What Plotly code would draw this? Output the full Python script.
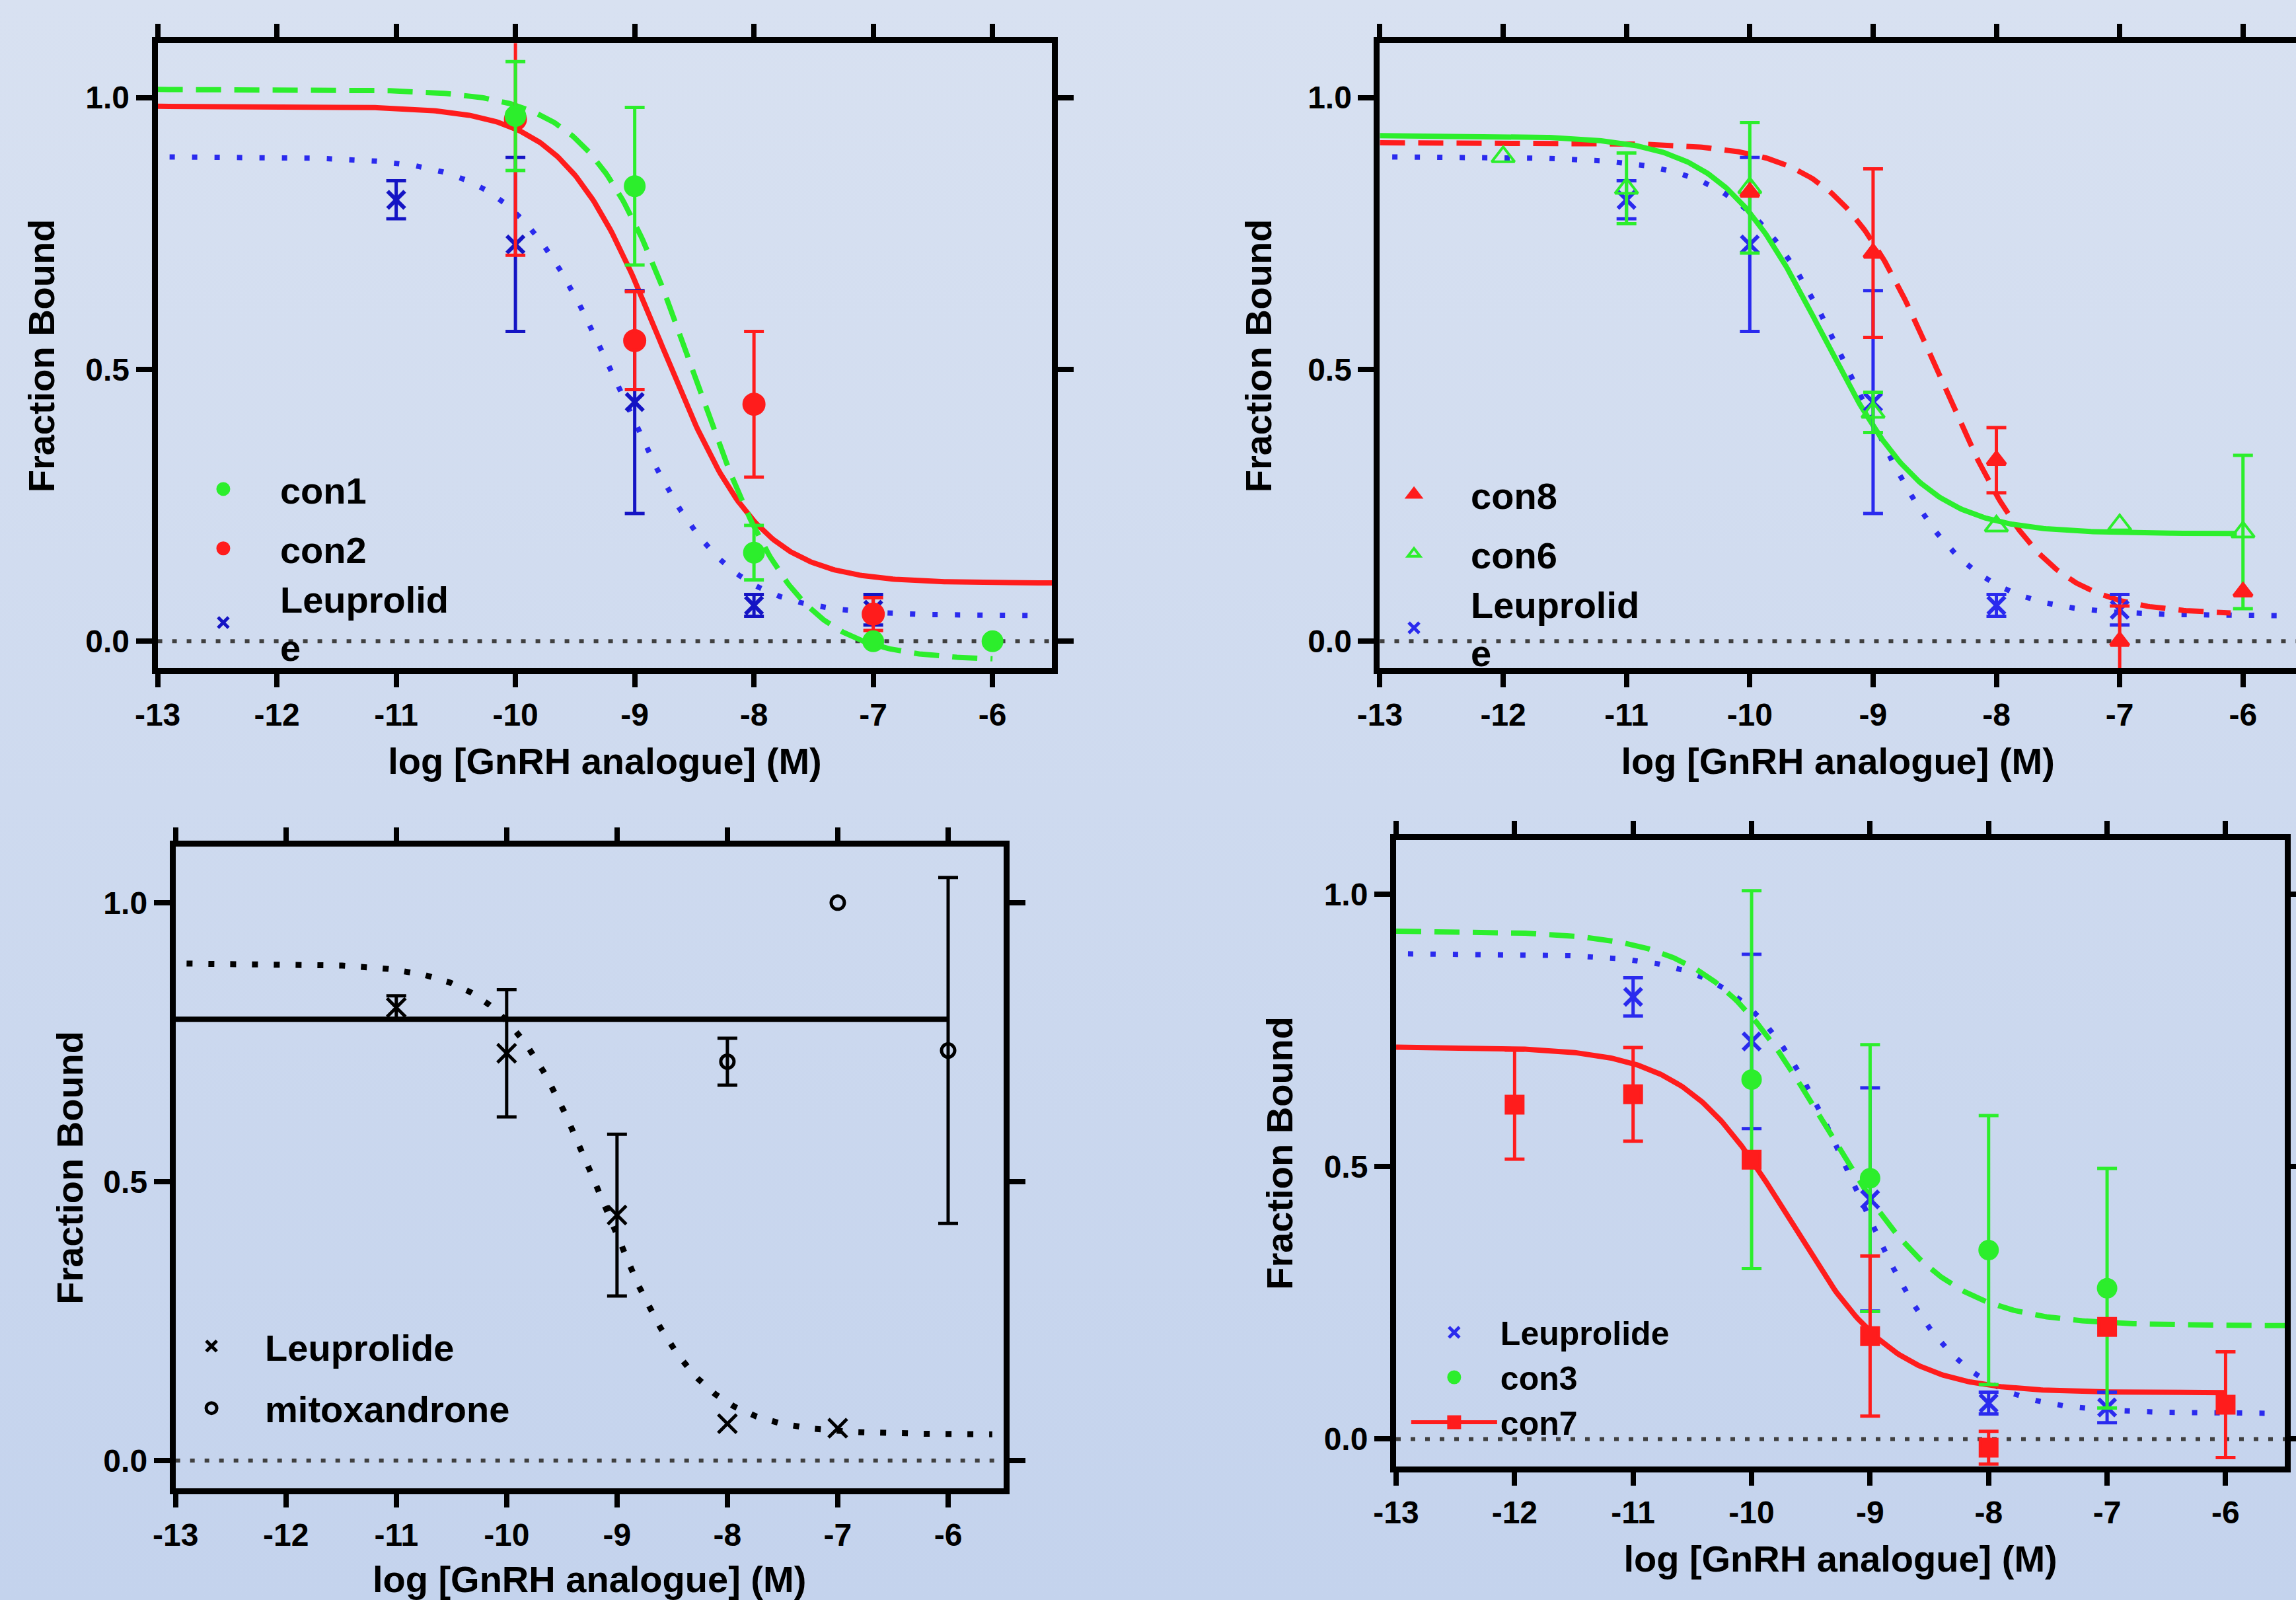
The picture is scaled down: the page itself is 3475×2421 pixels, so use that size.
import base64
import numpy as np
import plotly.graph_objects as go

W, H = 3475, 2421

# ---------------- data ----------------
x_ticks = [-13, -12, -11, -10, -9, -8, -7, -6]
x_ticktext = ["-13", "-12", "-11", "-10", "-9", "-8", "-7", "-6"]
y_ticks = [0.0, 0.5, 1.0]
y_ticktext = ["0.0", "0.5", "1.0"]

# Leuprolide (reference compound, shown in all panels)
leu_x = [-11, -10, -9, -8, -7]
leu_y = [0.812, 0.730, 0.440, 0.066, 0.058]
leu_err = [0.035, 0.160, 0.205, 0.020, 0.028]
leu_err_p3 = [0.021, 0.114, 0.145, 0.0, 0.0]
leu_fit = [0.891, 0.047, -9.14, 1.0]          # top, bottom, logIC50, hill
leu_fit_span = [-12.9, -5.6]

con1_x = [-10, -9, -8, -7, -6]
con1_y = [0.966, 0.837, 0.163, 0.0, 0.0]
con1_err = [0.10, 0.145, 0.05, 0.0, 0.0]
con1_fit = [1.015, -0.035, -8.5, 1.03]
con1_fit_span = [-13.0, -6.0]

con2_x = [-10, -9, -8, -7]
con2_y = [0.960, 0.553, 0.436, 0.050]
con2_err = [0.25, 0.09, 0.134, 0.03]
con2_fit = [0.984, 0.107, -8.775, 1.064]
con2_fit_span = [-13.0, -5.5]

con8_x = [-10, -9, -8, -7, -6]
con8_y = [0.826, 0.714, 0.333, 0.0, 0.091]
con8_err = [0.0, 0.155, 0.06, 0.065, 0.0]
con8_fit = [0.917, 0.049, -8.45, 1.04]
con8_fit_span = [-13.0, -6.1]

con6_x = [-12, -11, -10, -9, -8, -7, -6]
con6_y = [0.891, 0.833, 0.834, 0.421, 0.212, 0.214, 0.201]
con6_err = [0.0, 0.065, 0.12, 0.037, 0.0, 0.0, 0.141]
con6_fit = [0.93, 0.198, -9.41, 1.05]
con6_fit_span = [-13.0, -6.05]

con3_x = [-10, -9, -8, -7]
con3_y = [0.660, 0.479, 0.347, 0.277]
con3_err = [0.347, 0.245, 0.247, 0.22]
con3_fit = [0.933, 0.208, -9.367, 0.88]
con3_fit_span = [-13.0, -5.5]

con7_x = [-12, -11, -10, -9, -8, -7, -6]
con7_y = [0.614, 0.633, 0.513, 0.189, -0.016, 0.206, 0.063]
con7_err = [0.10, 0.086, 0.0, 0.147, 0.03, 0.0, 0.097]
con7_fit = [0.72, 0.085, -9.68, 0.98]
con7_fit_span = [-13.0, -6.0]

mito_x = [-8, -7, -6]
mito_y = [0.715, 1.0, 0.735]
mito_err = [0.042, 0.0, 0.31]
mito_fit_level = 0.791
mito_fit_span = [-13.0, -6.0]

# ---------------- styles ----------------
FONT = "Arial, 'Liberation Sans', sans-serif"
GREEN = "#2cee2c"
RED = "#ff1c1c"
BLUE_DK = "#1414c4"
BLUE = "#2a2aee"
BLACK = "#000000"

TICKFONT = dict(family=FONT, size=48, color="black", weight="bold")
TITLEFONT = dict(family=FONT, size=56, color="black", weight="bold")


def sigmoid(params, span, n=400):
    top, bottom, logic50, hill = params
    xs = np.linspace(span[0], span[1], n)
    ys = bottom + (top - bottom) / (1.0 + 10.0 ** ((xs - logic50) * hill))
    return xs, ys


traces = []


def add_series(x, y, err, name, color, symbol, size, xa, ya, legend, group,
               rank, showlegend=True, mlw=5):
    # error bars only where an error was shown
    ex = [a for a, e in zip(x, err) if e > 0]
    ey = [b for b, e in zip(y, err) if e > 0]
    ee = [e for e in err if e > 0]
    traces.append(go.Scatter(
        x=ex, y=ey, mode="markers", xaxis=xa, yaxis=ya, showlegend=False,
        hoverinfo="skip", marker=dict(color="rgba(0,0,0,0)", size=2),
        error_y=dict(type="data", array=ee, visible=True,
                     color=color, thickness=5, width=15)))
    mk = dict(symbol=symbol, size=size, color=color,
              line=dict(width=mlw, color=color))
    traces.append(go.Scatter(
        x=x, y=y, mode="markers", name=name, xaxis=xa, yaxis=ya,
        legend=legend, legendgroup=group, legendrank=rank,
        showlegend=showlegend, marker=mk))


def add_fit(params, span, color, dash, width, xa, ya):
    xs, ys = sigmoid(params, span)
    traces.append(go.Scatter(
        x=xs, y=ys, mode="lines", xaxis=xa, yaxis=ya, showlegend=False,
        hoverinfo="skip", line=dict(color=color, width=width, dash=dash)))


DOT = "8px,26px"
DASH = "38px,20px"

# ---- panel 1 ----
add_fit(leu_fit, leu_fit_span, BLUE, DOT, 8, "x", "y")
add_fit(con2_fit, con2_fit_span, RED, "solid", 8, "x", "y")
add_fit(con1_fit, con1_fit_span, GREEN, DASH, 8, "x", "y")
add_series(leu_x, leu_y, leu_err, "Leuprolid<br>e", BLUE_DK, "x-thin", 26,
           "x", "y", "legend", "b", 3, mlw=6)
add_series(con2_x, con2_y, con2_err, "con2", RED, "circle", 30, "x", "y",
           "legend", "b", 2)
add_series(con1_x, con1_y, con1_err, "con1", GREEN, "circle", 28, "x", "y",
           "legend", "a", 1)

# ---- panel 2 ----
add_fit(leu_fit, leu_fit_span, BLUE, DOT, 8, "x2", "y2")
add_fit(con8_fit, con8_fit_span, RED, DASH, 8, "x2", "y2")
add_fit(con6_fit, con6_fit_span, GREEN, "solid", 8, "x2", "y2")
add_series(leu_x, leu_y, leu_err, "Leuprolid<br>e", BLUE, "x-thin", 26,
           "x2", "y2", "legend2", "b", 3, mlw=6)
add_series(con6_x, con6_y, con6_err, "con6", GREEN, "triangle-up-open", 30,
           "x2", "y2", "legend2", "b", 2, mlw=4)
add_series(con8_x, con8_y, con8_err, "con8", RED, "triangle-up", 24,
           "x2", "y2", "legend2", "a", 1)

# ---- panel 3 ----
add_fit(leu_fit, leu_fit_span, BLACK, "9px,24px", 9, "x3", "y3")
xs_m = list(mito_fit_span)
traces.append(go.Scatter(x=xs_m, y=[mito_fit_level] * len(xs_m), mode="lines",
                         xaxis="x3", yaxis="y3", showlegend=False,
                         hoverinfo="skip", line=dict(color=BLACK, width=8)))
add_series(leu_x, leu_y, leu_err_p3, "Leuprolide", BLACK, "x-thin", 28,
           "x3", "y3", "legend3", "a", 1, mlw=5)
add_series(mito_x, mito_y, mito_err, "mitoxandrone", BLACK, "circle-open", 20,
           "x3", "y3", "legend3", "b", 2, mlw=5)

# ---- panel 4 ----
add_fit(leu_fit, leu_fit_span, BLUE, DOT, 8, "x4", "y4")
add_fit(con3_fit, con3_fit_span, GREEN, DASH, 8, "x4", "y4")
add_fit(con7_fit, con7_fit_span, RED, "solid", 8, "x4", "y4")
add_series(leu_x, leu_y, leu_err, "Leuprolide", BLUE, "x-thin", 26,
           "x4", "y4", "legend4", "a", 1, mlw=6)
add_series(con3_x, con3_y, con3_err, "con3", GREEN, "circle", 26,
           "x4", "y4", "legend4", "b", 2)
add_series(con7_x, con7_y, con7_err, "con7", RED, "square", 25,
           "x4", "y4", "legend4", "c", 3, showlegend=False)
# legend entry for con7 (line + square, as in the original key)
traces.append(go.Scatter(x=[None], y=[None], mode="lines+markers", name="con7",
                         xaxis="x4", yaxis="y4", legend="legend4",
                         legendgroup="c", legendrank=3,
                         line=dict(color=RED, width=6),
                         marker=dict(symbol="square", size=16, color=RED,
                                     line=dict(width=5, color=RED))))

fig = go.Figure(data=traces)


def xaxis(domain, rng, anchor):
    return dict(domain=domain, range=rng, anchor=anchor, showline=True,
                linecolor="black", linewidth=9, mirror="ticks",
                ticks="outside", ticklen=20, tickwidth=8, tickcolor="black",
                tickvals=x_ticks, ticktext=x_ticktext, tickfont=TICKFONT,
                showgrid=False, zeroline=False, automargin=False,
                title=dict(text="log [GnRH analogue] (M)", font=TITLEFONT,
                           standoff=28))


def yaxis(domain, anchor, standoff):
    return dict(domain=domain, range=[-0.05, 1.1], anchor=anchor,
                showline=True, linecolor="black", linewidth=9,
                mirror="ticks", ticks="outside", ticklen=24, tickwidth=8,
                tickcolor="black", tickvals=y_ticks, ticktext=y_ticktext,
                tickfont=TICKFONT, showgrid=False, zeroline=False,
                automargin=False,
                title=dict(text="Fraction Bound", font=TITLEFONT,
                           standoff=standoff))


def legend(x, y, size, itemwidth, gap):
    return dict(x=x, y=y, xanchor="left", yanchor="top",
                bgcolor="rgba(0,0,0,0)", borderwidth=0,
                font=dict(family=FONT, size=size, color="black",
                          weight="bold"),
                itemwidth=itemwidth, tracegroupgap=gap, traceorder="grouped")


grad_svg = (
    '<svg xmlns="http://www.w3.org/2000/svg" width="100" height="100" '
    'viewBox="0 0 100 100" preserveAspectRatio="none">'
    '<defs><linearGradient id="g" x1="0" y1="0" x2="0" y2="1">'
    '<stop offset="0" stop-color="#d8e1f1"/>'
    '<stop offset="1" stop-color="#c4d3ed"/></linearGradient></defs>'
    '<rect width="100" height="100" fill="url(#g)"/></svg>')
grad_src = "data:image/svg+xml;base64," + base64.b64encode(
    grad_svg.encode()).decode()

zero_shapes = []
for xa, ya in [("x", "y"), ("x2", "y2"), ("x3", "y3"), ("x4", "y4")]:
    zero_shapes.append(dict(type="line", xref=xa + " domain", yref=ya,
                            x0=0, x1=1, y0=0, y1=0, layer="below",
                            line=dict(color="#404040", width=6,
                                      dash="7px,15px")))

fig.update_layout(
    width=W, height=H, autosize=False,
    margin=dict(l=0, r=0, t=0, b=0, pad=0, autoexpand=False),
    paper_bgcolor="#cfdaef", plot_bgcolor="rgba(0,0,0,0)",
    font=dict(family=FONT, color="black"),
    images=[dict(source=grad_src, xref="paper", yref="paper", x=0, y=1,
                 sizex=1, sizey=1, sizing="stretch", xanchor="left",
                 yanchor="top", layer="below")],
    xaxis=xaxis([0.06866, 0.45825], [-13, -5.5], "y"),
    yaxis=yaxis([0.5822, 0.9730], "x", 32),
    xaxis2=xaxis([0.6010, 1.0], [-13, -5.57], "y2"),
    yaxis2=yaxis([0.5822, 0.9730], "x2", 40),
    xaxis3=xaxis([0.07646, 0.43698], [-13, -5.5], "y3"),
    yaxis3=yaxis([0.0697, 0.4707], "x3", 16),
    xaxis4=xaxis([0.60806, 0.99514], [-13, -5.5], "y4"),
    yaxis4=yaxis([0.0836, 0.4750], "x4", 33),
    legend=legend(0.0725, 0.7121, 56, 162, 14),
    legend2=legend(0.5911, 0.7088, 56, 162, 14),
    legend3=legend(0.0688, 0.1764, 56, 152, 18),
    legend4=legend(0.6132, 0.1834, 50, 130, 0),
    shapes=zero_shapes,
)

fig.write_html("out.html",
               config={"displayModeBar": False},
               post_script="document.body.style.margin='0';"
                           "document.body.style.overflow='hidden';")
